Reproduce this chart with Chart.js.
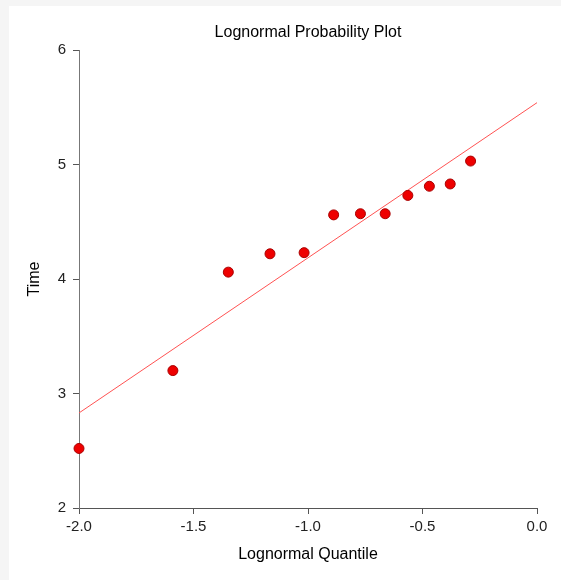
<!DOCTYPE html>
<html>
<head>
<meta charset="utf-8">
<script src="https://cdn.jsdelivr.net/npm/chart.js@4"></script>
<style>
  html, body { margin: 0; padding: 0; background: #f5f5f5; }
  #wrap { position: absolute; left: 9px; top: 6px; width: 552px; height: 574px; background: #fff; }
</style>
</head>
<body>
<div id="wrap"><canvas id="chart"></canvas></div>
<script>
// sample points
const quantiles = [-2.0, -1.59, -1.348, -1.166, -1.017, -0.888, -0.771, -0.663, -0.564, -0.470, -0.379, -0.290];
const times = [2.52, 3.20, 4.06, 4.22, 4.23, 4.56, 4.57, 4.57, 4.73, 4.81, 4.83, 5.03];
// fitted line end points
const fitX = [-2.0, 0.0];
const fitY = [2.83, 5.54];

const pts = quantiles.map((q, i) => ({ x: q, y: times[i] }));
const fit = fitX.map((q, i) => ({ x: q, y: fitY[i] }));

const family = 'Arial, "Liberation Sans", sans-serif';

// center the chart title over the plot area instead of the whole canvas
const centerTitle = {
  id: 'centerTitle',
  afterLayout(chart) {
    if (chart.titleBlock) {
      chart.titleBlock.left = chart.chartArea.left;
      chart.titleBlock.right = chart.chartArea.right;
    }
  }
};

new Chart(document.getElementById('chart'), {
  type: 'scatter',
  data: {
    datasets: [
      {
        type: 'line',
        data: fit,
        borderColor: '#ff5252',
        borderWidth: 1,
        pointRadius: 0,
        fill: false,
        order: 2
      },
      {
        data: pts,
        backgroundColor: '#ee0000',
        borderColor: '#a80000',
        borderWidth: 1,
        pointRadius: 5,
        clip: false,
        order: 1
      }
    ]
  },
  plugins: [centerTitle],
  options: {
    responsive: true,
    maintainAspectRatio: false,
    animation: false,
    layout: { padding: { top: 0, left: 0, right: 24, bottom: 0 } },
    plugins: {
      legend: { display: false },
      tooltip: { enabled: false },
      title: {
        display: true,
        text: 'Lognormal Probability Plot',
        color: '#000',
        font: { family, size: 16, weight: 'normal' },
        padding: { top: 16.8, bottom: 8 }
      }
    },
    scales: {
      x: {
        type: 'linear',
        min: -2,
        max: 0,
        afterFit: (s) => { s.height = 72; },
        grid: { drawOnChartArea: false, drawTicks: true, tickLength: 6, color: '#555' },
        border: { color: '#555', width: 1 },
        ticks: {
          stepSize: 0.5,
          padding: 4,
          color: '#222',
          font: { family, size: 15 },
          callback: (v) => v.toFixed(1)
        },
        title: {
          display: true,
          text: 'Lognormal Quantile',
          color: '#000',
          font: { family, size: 16 },
          padding: 15.8
        }
      },
      y: {
        type: 'linear',
        min: 2,
        max: 6,
        afterFit: (s) => { s.width = 70; },
        grid: { drawOnChartArea: false, drawTicks: true, tickLength: 6, color: '#555' },
        border: { color: '#777', width: 1 },
        ticks: {
          stepSize: 1,
          padding: 7,
          color: '#222',
          font: { family, size: 15 }
        },
        title: {
          display: true,
          text: 'Time',
          color: '#000',
          font: { family, size: 16 },
          padding: 15.8
        }
      }
    }
  }
});
</script>
</body>
</html>
